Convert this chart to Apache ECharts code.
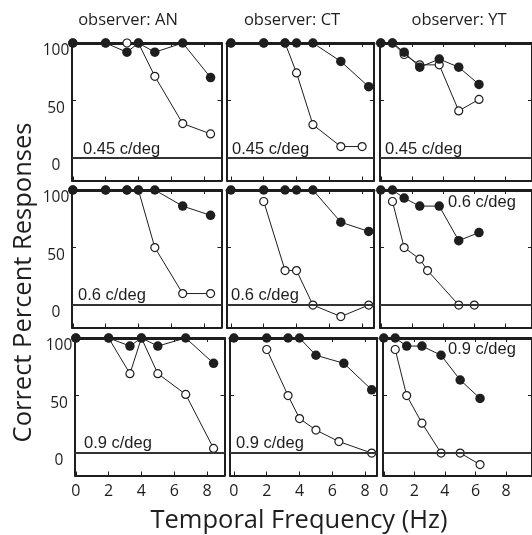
<!DOCTYPE html>
<html><head><meta charset="utf-8">
<script src="https://cdn.jsdelivr.net/npm/echarts@6/dist/echarts.min.js"></script>
<style>html,body{margin:0;padding:0;background:#fff}#c{width:532px;height:535px}</style>
</head><body><div id="c"></div>
<script>
// ---- data ----
const observers = ['observer: AN', 'observer: CT', 'observer: YT'];
const spatialFreqs = ['0.45 c/deg', '0.6 c/deg', '0.9 c/deg'];
const xTickValues = [0, 2, 4, 6, 8];
const yTickValues = [0, 50, 100];
const yInnerTicks = [50];
const xTitle = 'Temporal Frequency (Hz)';
const yTitle = 'Correct Percent Responses';

// temporal frequencies (Hz)
const freqAN = [0, 2, 3.3, 4, 5, 6.7, 8.4];
const freqCT = [0, 2, 3.3, 4, 5, 6.7, 8.4];
const freqYT = [0, 0.75, 1.5, 2.5, 3.75, 5, 6.3];

// observer AN
const an045Filled = [100, 100, 92, 100, 92, 100, 70];
const an045OpenX  = [0, 2, 3.3, 4, 5, 6.7, 8.4];
const an045Open   = [100, 100, 100, 100, 71, 30, 21];
const an06Filled  = [100, 100, 100, 100, 100, 86, 78];
const an06OpenX   = [0, 2, 3.3, 4, 5, 6.7, 8.4];
const an06Open    = [100, 100, 100, 100, 50, 10, 10];
const an09Filled  = [100, 100, 93, 100, 93, 100, 78];
const an09OpenX   = [0, 2, 3.3, 4, 5, 6.7, 8.4];
const an09Open    = [100, 100, 69, 100, 69, 51, 4];

// observer CT
const ct045Filled = [100, 100, 100, 100, 100, 84, 62];
const ct045OpenX  = [0, 2, 3.3, 4, 5, 6.7, 8.0];
const ct045Open   = [100, 100, 100, 74, 29, 10, 10];
const ct06Filled  = [100, 100, 100, 100, 100, 72, 64];
const ct06OpenX   = [2, 3.3, 4, 5, 6.7, 8.4];
const ct06Open    = [90, 30, 30, 0, -10, 0];
const ct09Filled  = [100, 100, 100, 100, 85, 78, 55];
const ct09OpenX   = [2, 3.3, 4, 5, 6.4, 8.4];
const ct09Open    = [90, 50, 30, 20, 10, 0];

// observer YT
const yt045Filled = [100, 100, 92, 79, 86, 79, 64];
const yt045OpenX  = [0, 0.75, 1.5, 2.5, 3.75, 5, 6.3];
const yt045Open   = [100, 100, 90, 81, 81, 41, 51];
const yt06Filled  = [100, 100, 93, 86, 86, 56, 63];
const yt06OpenX   = [0.75, 1.5, 2.5, 3.0, 5.0, 6.0];
const yt06Open    = [90, 50, 40, 30, 0, 0];
const yt09Filled  = [100, 100, 93, 93, 85, 63.5, 47.5];
const yt09OpenX   = [0.75, 1.5, 2.5, 3.75, 5, 6.3];
const yt09Open    = [90, 50, 26, 0, 0, -10];

// panels [row][col]
const panels = [
  [ {fx: freqAN, fy: an045Filled, ox: an045OpenX, oy: an045Open},
    {fx: freqCT, fy: ct045Filled, ox: ct045OpenX, oy: ct045Open},
    {fx: freqYT, fy: yt045Filled, ox: yt045OpenX, oy: yt045Open} ],
  [ {fx: freqAN, fy: an06Filled, ox: an06OpenX, oy: an06Open},
    {fx: freqCT, fy: ct06Filled, ox: ct06OpenX, oy: ct06Open},
    {fx: freqYT, fy: yt06Filled, ox: yt06OpenX, oy: yt06Open} ],
  [ {fx: freqAN, fy: an09Filled, ox: an09OpenX, oy: an09Open},
    {fx: freqCT, fy: ct09Filled, ox: ct09OpenX, oy: ct09Open},
    {fx: freqYT, fy: yt09Filled, ox: yt09OpenX, oy: yt09Open} ]
];

// ---- layout ----
const colLeft = [72, 227, 380];
const colWidth = [149.5, 147, 156];
const rowTop = [43, 190, 338];
const rowShift = [0, 0, 3];
const panelH = 137.5;
const xMin = [-0.05, -0.24, -0.05];
const pxPerUnit = [16.4, 16.4, 16.0];
const yMin = -19.5, yMax = 100;
// sf label placement relative to panel [dx, dy]
const labelPos = [
  [[11, 106.5], [5, 106.5], [5, 106.5]],
  [[6, 105.5], [4, 105.5], [68, 12.5]],
  [[9, 105.5], [6, 105.5], [65, 11]]
];
const titleCenters = [128, 292, 459];
const ink = '#1e1e1e';
const sans = '"Open Sans", "Liberation Sans", sans-serif';
const arial = '"Liberation Sans", Arial, sans-serif';

const grids = [], xAxes = [], yAxes = [], series = [], graphics = [];

for (let r = 0; r < 3; r++) {
  for (let c = 0; c < 3; c++) {
    const i = r * 3 + c;
    const left = colLeft[c] + rowShift[r];
    const top = rowTop[r];
    const w = colWidth[c];
    const mn = xMin[c];
    const mx = mn + w / pxPerUnit[c];
    grids.push({left: left, top: top, width: w, height: panelH, containLabel: false});
    xAxes.push({
      gridIndex: i, type: 'value', position: 'bottom', min: mn, max: mx,
      axisLine: {show: true, onZero: false, lineStyle: {color: ink, width: 2}},
      axisTick: {show: true, inside: true, length: 4, customValues: xTickValues, lineStyle: {color: ink, width: 1}},
      axisLabel: {show: r === 2, customValues: xTickValues, margin: 8, color: ink, fontSize: 16, fontFamily: sans},
      splitLine: {show: false}
    });
    xAxes.push({
      gridIndex: i, type: 'value', position: 'top', min: mn, max: mx,
      axisLine: {show: true, onZero: false, lineStyle: {color: ink, width: 3}},
      axisTick: {show: true, inside: true, length: 4, customValues: xTickValues, lineStyle: {color: ink, width: 1}},
      axisLabel: {show: false},
      splitLine: {show: false}
    });
    yAxes.push({
      gridIndex: i, type: 'value', position: 'left', min: yMin, max: yMax,
      axisLine: {show: true, onZero: false, lineStyle: {color: ink, width: 2}},
      axisTick: {show: true, inside: true, length: 4, customValues: yInnerTicks, lineStyle: {color: ink, width: 1}},
      axisLabel: {show: c === 0, customValues: yTickValues, align: 'center', verticalAlign: 'top', margin: 16,
                  color: ink, fontSize: 15.5, fontFamily: sans},
      splitLine: {show: false}
    });
    yAxes.push({
      gridIndex: i, type: 'value', position: 'right', min: yMin, max: yMax,
      axisLine: {show: true, onZero: false, lineStyle: {color: ink, width: 2}},
      axisTick: {show: true, inside: true, length: 4, customValues: yInnerTicks, lineStyle: {color: ink, width: 1}},
      axisLabel: {show: false},
      splitLine: {show: false}
    });
    const p = panels[r][c];
    series.push({
      type: 'line', xAxisIndex: 2 * i, yAxisIndex: 2 * i, clip: false, z: 3,
      data: p.ox.map((x, k) => [x, p.oy[k]]),
      symbol: 'circle', symbolSize: 8, showSymbol: true,
      lineStyle: {color: ink, width: 1},
      itemStyle: {color: '#fff', borderColor: ink, borderWidth: 1.2},
      markLine: {silent: true, symbol: 'none', label: {show: false},
                 lineStyle: {color: '#333', width: 2, type: 'solid'},
                 data: [{yAxis: 0}]}
    });
    series.push({
      type: 'line', xAxisIndex: 2 * i, yAxisIndex: 2 * i, clip: false, z: 4,
      data: p.fx.map((x, k) => [x, p.fy[k]]),
      symbol: 'circle', symbolSize: 9.5, showSymbol: true,
      lineStyle: {color: ink, width: 1},
      itemStyle: {color: ink}
    });
    const lp = labelPos[r][c];
    graphics.push({
      type: 'text', x: left + lp[0], y: top + lp[1], z: 10,
      style: {text: spatialFreqs[r], fill: ink, font: '16.5px ' + arial,
              align: 'left', verticalAlign: 'middle', textAlign: 'left', textVerticalAlign: 'middle'}
    });
  }
}

observers.forEach((t, c) => {
  graphics.push({
    type: 'text', x: titleCenters[c], y: 20, z: 10,
    style: {text: t, fill: ink, font: '16.5px ' + sans,
            align: 'center', verticalAlign: 'middle', textAlign: 'center', textVerticalAlign: 'middle'}
  });
});
graphics.push({
  type: 'text', x: 299, y: 521, z: 10,
  style: {text: xTitle, fill: ink, font: '25.5px ' + sans,
          align: 'center', verticalAlign: 'middle', textAlign: 'center', textVerticalAlign: 'middle'}
});
graphics.push({
  type: 'text', x: 24, y: 282.5, rotation: Math.PI / 2, z: 10,
  style: {text: yTitle, fill: ink, font: '25.5px ' + sans,
          align: 'center', verticalAlign: 'middle', textAlign: 'center', textVerticalAlign: 'middle'}
});

const chart = echarts.init(document.getElementById('c'), null, {renderer: 'canvas', width: 532, height: 535});
chart.setOption({
  animation: false,
  backgroundColor: '#fff',
  grid: grids, xAxis: xAxes, yAxis: yAxes, series: series,
  graphic: {elements: graphics}
});
</script></body></html>
